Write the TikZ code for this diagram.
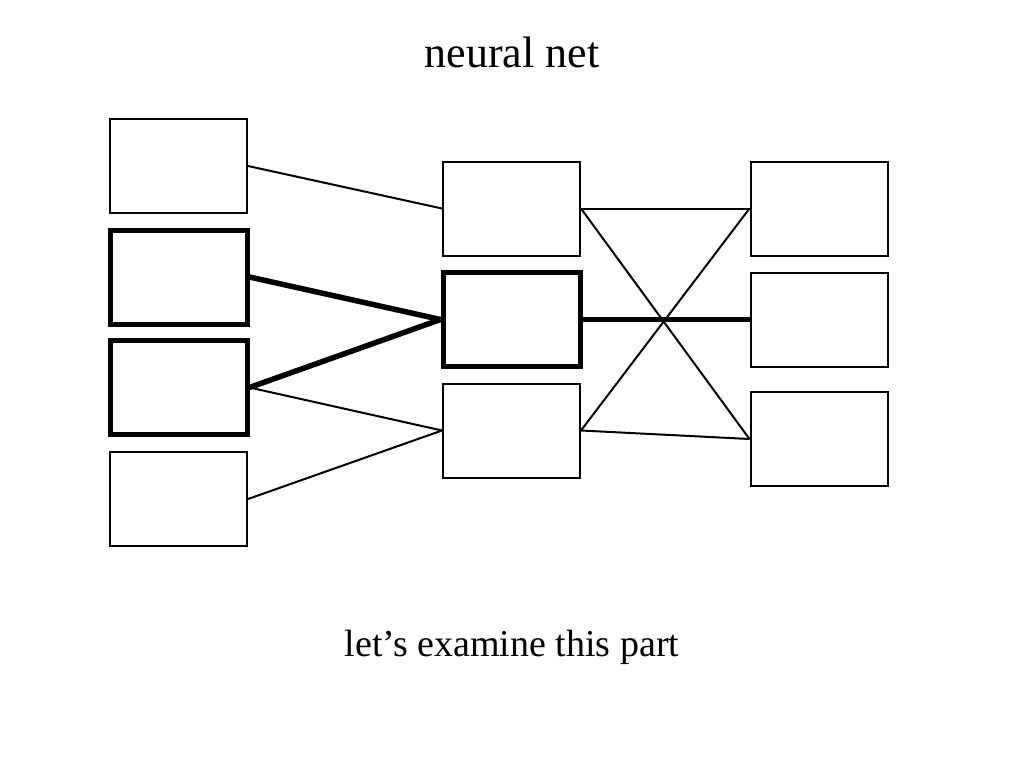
\documentclass[tikz,border=0pt]{standalone}
\usepackage{fontspec}
\setmainfont{Liberation Serif}
\begin{document}
\begin{tikzpicture}[x=1pt,y=-1pt,
 box/.style={draw,line width=2pt,minimum width=137pt,minimum height=94pt,inner sep=0pt},
 tbox/.style={box,line width=5pt},
 thin/.style={line width=2pt},
 thick/.style={line width=5.5pt}]
\useasboundingbox (0,0) rectangle (1024,768);
\node[font=\fontsize{44}{50}\selectfont] (title) at (512,52) {neural net};
\node[font=\fontsize{38}{44}\selectfont] (cap) at (512,647) {let’s examine this part};
\node[box] (L1) at (178.5,166) {};
\node[tbox] (L2) at (178.5,277) {};
\node[tbox] (L3) at (178.5,387.5) {};
\node[box] (L4) at (178.5,499) {};
\node[box] (M1) at (511.5,208.5) {};
\node[tbox] (M2) at (511.5,319.5) {};
\node[box] (M3) at (511.5,430.5) {};
\node[box] (R1) at (819,208.5) {};
\node[box] (R2) at (819,319.5) {};
\node[box] (R3) at (819,439) {};
\draw[thin] (L1.east) -- (M1.west);
\draw[thick] (L2.east) -- (M2.west);
\draw[thick] (L3.east) -- (M2.west);
\draw[thin] (L3.east) -- (M3.west);
\draw[thin] (L4.east) -- (M3.west);
\draw[thin] (M1.east) -- (R1.west);
\draw[thin] (M1.east) -- (R3.west);
\draw[thick] (M2.east) -- (R2.west);
\draw[thin] (M3.east) -- (R1.west);
\draw[thin] (M3.east) -- (R3.west);
\end{tikzpicture}
\end{document}
